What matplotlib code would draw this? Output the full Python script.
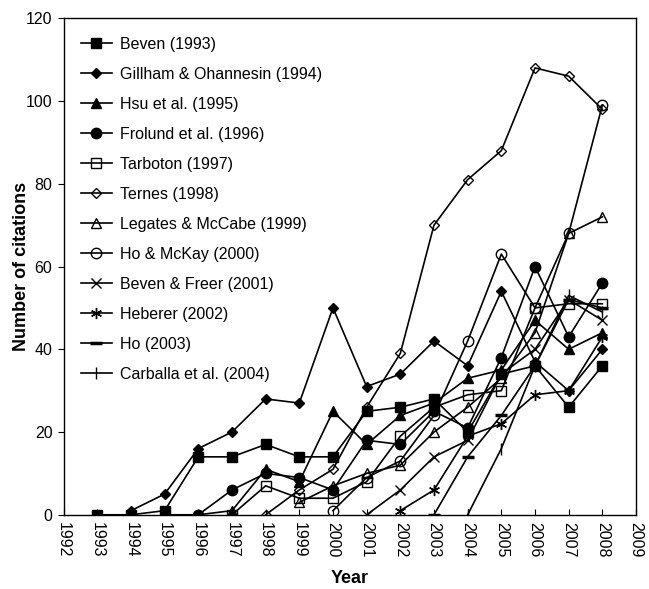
import numpy as np
import matplotlib
matplotlib.use("Agg")
import matplotlib.pyplot as plt

plt.rcParams['font.family'] = ['Liberation Sans', 'DejaVu Sans']

years = list(range(1993, 2009))
nan = np.nan

# citations per year for each paper (nan = not yet published)
beven_1993 = [0, 0, 1, 14, 14, 17, 14, 14, 25, 26, 28, 20, 34, 36, 26, 36]
gillham_1994 = [nan, 1, 5, 16, 20, 28, 27, 50, 31, 34, 42, 36, 54, 37, 30, 40]
hsu_1995 = [nan, nan, 0, 0, 1, 11, 8, 25, 17, 24, 27, 33, 35, 47, 40, 44]
frolund_1996 = [nan, nan, nan, 0, 6, 10, 9, 6, 18, 17, 25, 21, 38, 60, 43, 56]
tarboton_1997 = [nan, nan, nan, nan, 0, 7, 4, 4, 8, 19, 26, 29, 30, 50, 51, 51]
ternes_1998 = [nan, nan, nan, nan, nan, 0, 6, 11, 26, 39, 70, 81, 88, 108, 106, 98]
legates_1999 = [nan, nan, nan, nan, nan, nan, 3, 7, 10, 12, 20, 26, 33, 44, 68, 72]
homckay_2000 = [nan, nan, nan, nan, nan, nan, nan, 1, 9, 13, 24, 42, 63, 50, 68, 99]
bevenfreer_2001 = [nan, nan, nan, nan, nan, nan, nan, nan, 0, 6, 14, 18, 34, 40, 52, 47]
heberer_2002 = [nan, nan, nan, nan, nan, nan, nan, nan, nan, 1, 6, 19, 22, 29, 30, 43]
ho_2003 = [nan, nan, nan, nan, nan, nan, nan, nan, nan, nan, 0, 14, 24, 36, 52, 50]
carballa_2004 = [nan, nan, nan, nan, nan, nan, nan, nan, nan, nan, nan, 0, 16, 36, 53, 49]

labels = ['Beven (1993)', 'Gillham & Ohannesin (1994)', 'Hsu et al. (1995)',
          'Frolund et al. (1996)', 'Tarboton (1997)', 'Ternes (1998)',
          'Legates & McCabe (1999)', 'Ho & McKay (2000)', 'Beven & Freer (2001)',
          'Heberer (2002)', 'Ho (2003)', 'Carballa et al. (2004)']
series = [beven_1993, gillham_1994, hsu_1995, frolund_1996, tarboton_1997,
          ternes_1998, legates_1999, homckay_2000, bevenfreer_2001,
          heberer_2002, ho_2003, carballa_2004]

# marker, size, fill
styles = [('s', 7, 'k'), ('D', 5.5, 'k'), ('^', 7, 'k'), ('o', 7.5, 'k'),
          ('s', 7, 'none'), ('D', 5.5, 'none'), ('^', 7, 'none'), ('o', 7.5, 'none'),
          ('x', 7, 'k'), ((6, 2, 0), 8, 'k'), ('_', 9, 'k'), ('|', 9, 'k')]

fig = plt.figure(figsize=(6.49, 5.89), dpi=100)
ax = fig.add_axes([0.098, 0.126, 0.882, 0.843])

for vals, lab, (m, ms, fc) in zip(series, labels, styles):
    mew = 2.5 if m == '_' else 1.0
    ax.plot(years, vals, color='k', lw=1.2, marker=m, markersize=ms,
            markerfacecolor=fc, markeredgecolor='k', markeredgewidth=mew,
            label=lab)

ax.set_xlim(1992, 2009)
ax.set_ylim(0, 120)
ax.set_xticks(range(1992, 2010))
ax.set_xticklabels([str(y) for y in range(1992, 2010)], rotation=-90)
ax.set_yticks(range(0, 121, 20))
ax.tick_params(axis='x', direction='in', length=4, labelsize=11.5, pad=5)
ax.tick_params(axis='y', direction='out', length=4, labelsize=11.5, pad=4)
for s in ax.spines.values():
    s.set_linewidth(1.0)

ax.set_xlabel('Year', fontsize=13, fontweight='bold', labelpad=9)
ax.set_ylabel('Number of citations', fontsize=13, fontweight='bold', labelpad=-3)

ax.legend(loc='upper left', frameon=False, fontsize=11.5, handlelength=2.0,
          handletextpad=0.5, labelspacing=0.94, borderaxespad=0.3,
          bbox_to_anchor=(0.01, 0.985))

fig.savefig('out.png', dpi=100)
